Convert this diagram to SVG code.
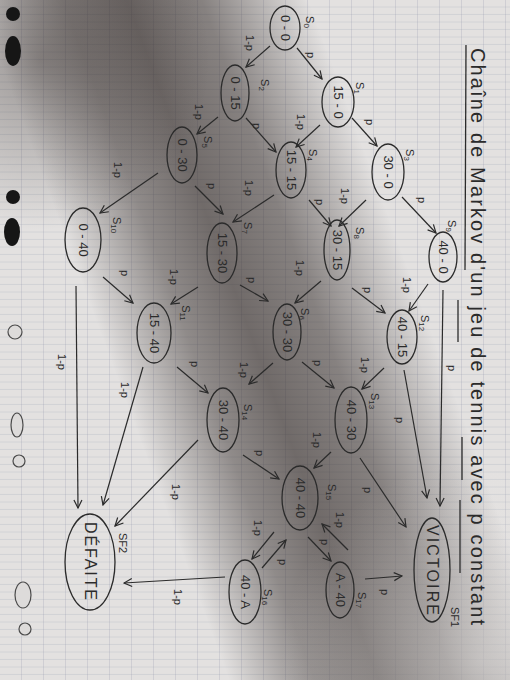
<svg xmlns="http://www.w3.org/2000/svg" width="510" height="680" viewBox="0 0 510 680">
<defs>
<pattern id="ruled" width="22" height="7.5" patternUnits="userSpaceOnUse">
<line x1="0" y1="7" x2="22" y2="7" stroke="#8f96a8" stroke-width="0.6" stroke-opacity="0.35"/>
<line x1="21.5" y1="0" x2="21.5" y2="7.5" stroke="#8f96a8" stroke-width="0.6" stroke-opacity="0.4"/>
</pattern>
<linearGradient id="shadow" gradientUnits="userSpaceOnUse" x1="35" y1="387" x2="505" y2="213">
<stop offset="0.16" stop-color="#2a2220" stop-opacity="0"/>
<stop offset="0.32" stop-color="#2a2220" stop-opacity="0.45"/>
<stop offset="0.44" stop-color="#2a2220" stop-opacity="0.62"/>
<stop offset="0.58" stop-color="#2a2220" stop-opacity="0.5"/>
<stop offset="0.68" stop-color="#2a2220" stop-opacity="0.25"/>
<stop offset="0.78" stop-color="#2a2220" stop-opacity="0"/>
</linearGradient>
<radialGradient id="corner" gradientUnits="userSpaceOnUse" cx="40" cy="60" r="170">
<stop offset="0" stop-color="#2a2220" stop-opacity="0.4"/>
<stop offset="1" stop-color="#2a2220" stop-opacity="0"/>
</radialGradient>
<radialGradient id="light" gradientUnits="userSpaceOnUse" cx="480" cy="660" r="200">
<stop offset="0" stop-color="#e6e4e3" stop-opacity="0.5"/>
<stop offset="1" stop-color="#e6e4e3" stop-opacity="0"/>
</radialGradient>
<marker id="arr" markerWidth="10" markerHeight="10" refX="9" refY="5" orient="auto" markerUnits="userSpaceOnUse">
<path d="M1,1 L9,5 L1,9" fill="none" stroke="#2b2b2b" stroke-width="1.2"/>
</marker>
<style>
.node ellipse{fill:none;stroke:#2b2b2b;stroke-width:1.3}
.nt{font-family:"Liberation Sans",Arial,sans-serif;font-size:13px;fill:#2b2b2b;text-anchor:middle;dominant-baseline:central}
.big{font-size:16px}
.sl{font-family:"Liberation Sans",Arial,sans-serif;font-size:11px;fill:#2b2b2b;text-anchor:middle;dominant-baseline:central}
.el{font-family:"Liberation Sans",Arial,sans-serif;font-size:11px;fill:#2b2b2b;text-anchor:middle;dominant-baseline:central}
.edges line{stroke:#2b2b2b;stroke-width:1.2;marker-end:url(#arr)}
.title{font-family:"Liberation Sans",Arial,sans-serif;font-size:20px;fill:#2b2b2b}
.ul{stroke:#2b2b2b;stroke-width:1.3}
.holeD{fill:#161616}
.holeL{fill:#dddbda;stroke:#4a4a4a;stroke-width:1.2}
</style>
</defs>
<rect width="510" height="680" fill="#e3e1e0"/>
<rect width="510" height="680" fill="url(#ruled)"/>
<rect width="510" height="680" fill="url(#shadow)"/>
<rect width="510" height="680" fill="url(#corner)"/>
<rect width="510" height="680" fill="url(#light)"/>
<g id="holes">
<circle class="holeD" cx="13" cy="14" r="7"/>
<ellipse class="holeD" cx="13" cy="51" rx="8" ry="15"/>
<circle class="holeD" cx="13" cy="197" r="7"/>
<ellipse class="holeD" cx="12" cy="232" rx="8" ry="14"/>
<circle class="holeL" cx="15" cy="332" r="7"/>
<ellipse class="holeL" cx="17" cy="425" rx="6" ry="12"/>
<circle class="holeL" cx="19" cy="461" r="6"/>
<ellipse class="holeL" cx="23" cy="595" rx="8" ry="13"/>
<circle class="holeL" cx="25" cy="629" r="6"/>
</g>
<g id="title">
<text class="title" transform="translate(471,48) rotate(90)" textLength="577" lengthAdjust="spacing">Chaîne de Markov d'un jeu de tennis avec p constant</text>
<line class="ul" x1="466" y1="45" x2="465" y2="270"/>
<line class="ul" x1="458" y1="300" x2="458" y2="342"/>
<line class="ul" x1="462" y1="437" x2="462" y2="480"/>
<line class="ul" x1="460" y1="500" x2="460" y2="573"/>
</g>
<g class="edges" id="connectors">
<line x1="297" y1="48" x2="322" y2="79"/>
<line x1="270" y1="46" x2="246" y2="67"/>
<line x1="352" y1="118" x2="377" y2="146"/>
<line x1="320" y1="125" x2="296" y2="147"/>
<line x1="246" y1="118" x2="276" y2="152"/>
<line x1="218" y1="117" x2="197" y2="134"/>
<line x1="366" y1="200" x2="339" y2="226"/>
<line x1="402" y1="197" x2="436" y2="233"/>
<line x1="309" y1="200" x2="331" y2="226"/>
<line x1="274" y1="195" x2="233" y2="222"/>
<line x1="195" y1="186" x2="223" y2="214"/>
<line x1="158" y1="173" x2="100" y2="213"/>
<line x1="321" y1="281" x2="295" y2="303"/>
<line x1="352" y1="288" x2="385" y2="313"/>
<line x1="428" y1="284" x2="409" y2="311"/>
<line x1="198" y1="287" x2="171" y2="304"/>
<line x1="240" y1="285" x2="268" y2="301"/>
<line x1="103" y1="277" x2="133" y2="303"/>
<line x1="273" y1="363" x2="249" y2="384"/>
<line x1="302" y1="362" x2="334" y2="388"/>
<line x1="384" y1="368" x2="362" y2="389"/>
<line x1="177" y1="367" x2="208" y2="393"/>
<line x1="331" y1="452" x2="314" y2="468"/>
<line x1="243" y1="455" x2="279" y2="479"/>
<line x1="308" y1="537" x2="331" y2="561"/>
<line x1="348" y1="550" x2="322" y2="524"/>
<line x1="274" y1="532" x2="252" y2="559"/>
<line x1="262" y1="568" x2="286" y2="540"/>
<line x1="443" y1="290" x2="440" y2="506"/>
<line x1="404" y1="370" x2="427" y2="498"/>
<line x1="360" y1="458" x2="406" y2="527"/>
<line x1="365" y1="579" x2="402" y2="576"/>
<line x1="225" y1="577" x2="124" y2="583"/>
<line x1="198" y1="440" x2="115" y2="526"/>
<line x1="143" y1="367" x2="103" y2="505"/>
<line x1="76" y1="286" x2="78" y2="508"/>
</g>
<g id="edge-labels">
<text class="el" transform="translate(311,55) rotate(90)">p</text>
<text class="el" transform="translate(250,43) rotate(90)">1-p</text>
<text class="el" transform="translate(370,122) rotate(90)">p</text>
<text class="el" transform="translate(301,122) rotate(90)">1-p</text>
<text class="el" transform="translate(257,126) rotate(90)">p</text>
<text class="el" transform="translate(199,112) rotate(90)">1-p</text>
<text class="el" transform="translate(345,196) rotate(90)">1-p</text>
<text class="el" transform="translate(422,200) rotate(90)">p</text>
<text class="el" transform="translate(320,202) rotate(90)">p</text>
<text class="el" transform="translate(249,188) rotate(90)">1-p</text>
<text class="el" transform="translate(212,186) rotate(90)">p</text>
<text class="el" transform="translate(118,170) rotate(90)">1-p</text>
<text class="el" transform="translate(300,268) rotate(90)">1-p</text>
<text class="el" transform="translate(368,290) rotate(90)">p</text>
<text class="el" transform="translate(407,285) rotate(90)">1-p</text>
<text class="el" transform="translate(174,277) rotate(90)">1-p</text>
<text class="el" transform="translate(252,280) rotate(90)">p</text>
<text class="el" transform="translate(125,273) rotate(90)">p</text>
<text class="el" transform="translate(244,370) rotate(90)">1-p</text>
<text class="el" transform="translate(318,363) rotate(90)">p</text>
<text class="el" transform="translate(365,365) rotate(90)">1-p</text>
<text class="el" transform="translate(195,364) rotate(90)">p</text>
<text class="el" transform="translate(317,440) rotate(90)">1-p</text>
<text class="el" transform="translate(260,453) rotate(90)">p</text>
<text class="el" transform="translate(325,542) rotate(90)">p</text>
<text class="el" transform="translate(340,520) rotate(90)">1-p</text>
<text class="el" transform="translate(258,528) rotate(90)">1-p</text>
<text class="el" transform="translate(283,562) rotate(90)">p</text>
<text class="el" transform="translate(452,368) rotate(90)">p</text>
<text class="el" transform="translate(400,420) rotate(90)">p</text>
<text class="el" transform="translate(368,490) rotate(90)">p</text>
<text class="el" transform="translate(385,592) rotate(90)">p</text>
<text class="el" transform="translate(178,597) rotate(90)">1-p</text>
<text class="el" transform="translate(176,492) rotate(90)">1-p</text>
<text class="el" transform="translate(125,390) rotate(90)">1-p</text>
<text class="el" transform="translate(62,362) rotate(90)">1-p</text>
</g>
<g id="S0" class="node"><ellipse cx="285" cy="28" rx="15" ry="22"/><text class="nt" transform="translate(285,28) rotate(90)">0 - 0</text><text class="sl" transform="translate(310,22) rotate(90)">S<tspan font-size="8" dy="3">0</tspan></text></g>
<g id="S1" class="node"><ellipse cx="338" cy="102" rx="16" ry="25"/><text class="nt" transform="translate(338,102) rotate(90)">15 - 0</text><text class="sl" transform="translate(360,88) rotate(90)">S<tspan font-size="8" dy="3">1</tspan></text></g>
<g id="S2" class="node"><ellipse cx="235" cy="93" rx="14" ry="28"/><text class="nt" transform="translate(235,93) rotate(90)">0 - 15</text><text class="sl" transform="translate(265,85) rotate(90)">S<tspan font-size="8" dy="3">2</tspan></text></g>
<g id="S3" class="node"><ellipse cx="388" cy="172" rx="16" ry="28"/><text class="nt" transform="translate(388,172) rotate(90)">30 - 0</text><text class="sl" transform="translate(410,155) rotate(90)">S<tspan font-size="8" dy="3">3</tspan></text></g>
<g id="S4" class="node"><ellipse cx="291" cy="170" rx="15" ry="28"/><text class="nt" transform="translate(291,170) rotate(90)">15 - 15</text><text class="sl" transform="translate(313,155) rotate(90)">S<tspan font-size="8" dy="3">4</tspan></text></g>
<g id="S5" class="node"><ellipse cx="182" cy="155" rx="15" ry="28"/><text class="nt" transform="translate(182,155) rotate(90)">0 - 30</text><text class="sl" transform="translate(208,142) rotate(90)">S<tspan font-size="8" dy="3">5</tspan></text></g>
<g id="S6" class="node"><ellipse cx="287" cy="332" rx="14" ry="28"/><text class="nt" transform="translate(287,332) rotate(90)">30 - 30</text><text class="sl" transform="translate(305,314) rotate(90)">S<tspan font-size="8" dy="3">6</tspan></text></g>
<g id="S7" class="node"><ellipse cx="222" cy="253" rx="15" ry="30"/><text class="nt" transform="translate(222,253) rotate(90)">15 - 30</text><text class="sl" transform="translate(248,228) rotate(90)">S<tspan font-size="8" dy="3">7</tspan></text></g>
<g id="S8" class="node"><ellipse cx="337" cy="250" rx="13" ry="30"/><text class="nt" transform="translate(337,250) rotate(90)">30 - 15</text><text class="sl" transform="translate(360,233) rotate(90)">S<tspan font-size="8" dy="3">8</tspan></text></g>
<g id="S9" class="node"><ellipse cx="443" cy="257" rx="14" ry="25"/><text class="nt" transform="translate(443,257) rotate(90)">40 - 0</text><text class="sl" transform="translate(452,226) rotate(90)">S<tspan font-size="8" dy="3">9</tspan></text></g>
<g id="S10" class="node"><ellipse cx="83" cy="240" rx="18" ry="32"/><text class="nt" transform="translate(83,240) rotate(90)">0 - 40</text><text class="sl" transform="translate(117,225) rotate(90)">S<tspan font-size="8" dy="3">10</tspan></text></g>
<g id="S11" class="node"><ellipse cx="154" cy="333" rx="17" ry="30"/><text class="nt" transform="translate(154,333) rotate(90)">15 - 40</text><text class="sl" transform="translate(186,313) rotate(90)">S<tspan font-size="8" dy="3">11</tspan></text></g>
<g id="S12" class="node"><ellipse cx="402" cy="337" rx="15" ry="27"/><text class="nt" transform="translate(402,337) rotate(90)">40 - 15</text><text class="sl" transform="translate(425,323) rotate(90)">S<tspan font-size="8" dy="3">12</tspan></text></g>
<g id="S13" class="node"><ellipse cx="351" cy="420" rx="16" ry="33"/><text class="nt" transform="translate(351,420) rotate(90)">40 - 30</text><text class="sl" transform="translate(375,401) rotate(90)">S<tspan font-size="8" dy="3">13</tspan></text></g>
<g id="S14" class="node"><ellipse cx="223" cy="420" rx="16" ry="32"/><text class="nt" transform="translate(223,420) rotate(90)">30 - 40</text><text class="sl" transform="translate(248,412) rotate(90)">S<tspan font-size="8" dy="3">14</tspan></text></g>
<g id="S15" class="node"><ellipse cx="300" cy="498" rx="18" ry="32"/><text class="nt" transform="translate(300,498) rotate(90)">40 - 40</text><text class="sl" transform="translate(332,492) rotate(90)">S<tspan font-size="8" dy="3">15</tspan></text></g>
<g id="S16" class="node"><ellipse cx="245" cy="592" rx="16" ry="32"/><text class="nt" transform="translate(245,592) rotate(90)">40 - A</text><text class="sl" transform="translate(268,597) rotate(90)">S<tspan font-size="8" dy="3">16</tspan></text></g>
<g id="S17" class="node"><ellipse cx="340" cy="590" rx="14" ry="28"/><text class="nt" transform="translate(340,590) rotate(90)">A - 40</text><text class="sl" transform="translate(362,600) rotate(90)">S<tspan font-size="8" dy="3">17</tspan></text></g>
<g id="SF1" class="node"><ellipse cx="432" cy="570" rx="18" ry="52"/><text class="nt big" transform="translate(432,570) rotate(90)" textLength="90" lengthAdjust="spacing">VICTOIRE</text><text class="sl" transform="translate(455,617) rotate(90)">SF1</text></g>
<g id="SF2" class="node"><ellipse cx="90" cy="562" rx="25" ry="48"/><text class="nt big" transform="translate(90,561) rotate(90)" textLength="78" lengthAdjust="spacing">DÉFAITE</text><text class="sl" transform="translate(123,543) rotate(90)">SF2</text></g>
</svg>
